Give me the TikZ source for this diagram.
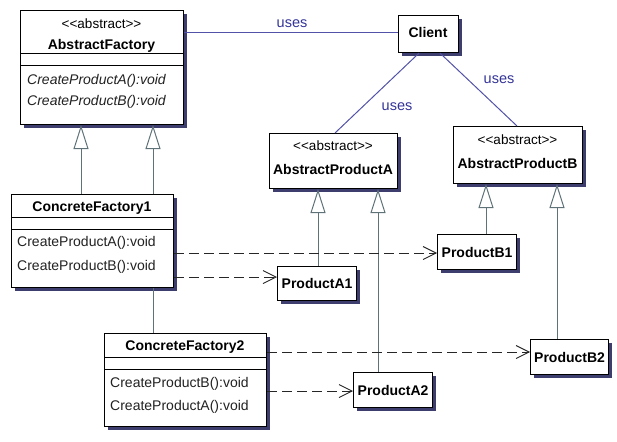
\documentclass[tikz,border=0pt]{standalone}
\usepackage{fontspec}
\setmainfont{Liberation Sans}
\usetikzlibrary{arrows.meta,shadows}
\definecolor{shadowc}{HTML}{3E3E6E}
\definecolor{genc}{HTML}{5E7278}
\definecolor{usec}{HTML}{5252A8}
\definecolor{usetext}{HTML}{333399}
\definecolor{methc}{HTML}{222222}
\newcommand{\stereotxt}{<\kern0pt<abstract>\kern0pt>}
\begin{document}
\begin{tikzpicture}[x=1pt,y=-1pt,
  cls/.style={draw=black, line width=1.1pt, fill=white,
    drop shadow={shadow xshift=3pt, shadow yshift=-3pt, fill=shadowc, opacity=1},
    inner sep=0pt, anchor=north west},
  divl/.style={draw=black, line width=1pt},
  stereo/.style={font=\fontsize{13.5}{15}\selectfont, inner sep=0pt},
  cname/.style={font=\bfseries\fontsize{14}{16}\selectfont, inner sep=0pt},
  meth/.style={font=\fontsize{14}{16}\selectfont, text=methc, anchor=west, inner sep=0pt},
  imeth/.style={meth, font=\itshape\fontsize{14}{16}\selectfont},
  gen/.style={draw=genc, line width=1pt, -{Triangle[open, length=24pt, width=15pt, fill=white]}},
  genline/.style={draw=genc, line width=1pt},
  dep/.style={draw=black!85, line width=0.9pt, dash pattern=on 10pt off 5pt,
    -{Straight Barb[length=13pt, width=13pt]}},
  uses/.style={draw=usec, line width=1pt},
  useslbl/.style={font=\fontsize{14.5}{16}\selectfont, text=usetext, inner sep=0pt}
]
\useasboundingbox (0,0) rectangle (617,441);

% AbstractFactory
\node[cls, minimum width=163pt, minimum height=114pt] (AF) at (20,10) {};
\draw[divl] (AF.west |- 0,54) -- (AF.east |- 0,54);
\draw[divl] (AF.west |- 0,66) -- (AF.east |- 0,66);
\node[stereo] (AFs) at (101.5,24) {\stereotxt};
\node[cname] (AFn) at (101.5,46) {AbstractFactory};
\node[imeth] (AFm1) at (27,81) {CreateProductA():void};
\node[imeth] (AFm2) at (27,102) {CreateProductB():void};

% Client
\node[cls, minimum width=60pt, minimum height=37pt] (CL) at (398,15) {};
\node[cname] (CLn) at (428,32) {Client};

% AbstractProductA
\node[cls, minimum width=128pt, minimum height=55pt] (APA) at (269,133) {};
\node[stereo] (APAs) at (333,146) {\stereotxt};
\node[cname] (APAn) at (333,169) {AbstractProductA};

% AbstractProductB
\node[cls, minimum width=129pt, minimum height=57pt] (APB) at (453,126) {};
\node[stereo] (APBs) at (517.5,140) {\stereotxt};
\node[cname] (APBn) at (517.5,163) {AbstractProductB};

% ConcreteFactory1
\node[cls, minimum width=162pt, minimum height=93pt] (CF1) at (11,194) {};
\draw[divl] (CF1.west |- 0,217) -- (CF1.east |- 0,217);
\draw[divl] (CF1.west |- 0,229) -- (CF1.east |- 0,229);
\node[cname] (CF1n) at (92,208) {ConcreteFactory1};
\node[meth] (CF1m1) at (17,243) {CreateProductA():void};
\node[meth] (CF1m2) at (17,267) {CreateProductB():void};

% ConcreteFactory2
\node[cls, minimum width=162pt, minimum height=93pt] (CF2) at (104,333) {};
\draw[divl] (CF2.west |- 0,357) -- (CF2.east |- 0,357);
\draw[divl] (CF2.west |- 0,369) -- (CF2.east |- 0,369);
\node[cname] (CF2n) at (185,347) {ConcreteFactory2};
\node[meth] (CF2m1) at (110,384) {CreateProductB():void};
\node[meth] (CF2m2) at (110,407) {CreateProductA():void};

% Products
\node[cls, minimum width=79pt, minimum height=34pt] (PA1) at (277,266) {};
\node[cname] at (PA1.center) {ProductA1};
\node[cls, minimum width=79pt, minimum height=35pt] (PB1) at (437,234) {};
\node[cname] at (PB1.center) {ProductB1};
\node[cls, minimum width=79pt, minimum height=35pt] (PA2) at (353,372) {};
\node[cname] at (PA2.center) {ProductA2};
\node[cls, minimum width=78pt, minimum height=35pt] (PB2) at (530,339) {};
\node[cname] at (PB2.center) {ProductB2};

% generalizations
\draw[gen] (CF1.north -| 81,0) -- (AF.south -| 81,0);
\draw[gen] (CF1.north -| 153,0) -- (AF.south -| 153,0);
\draw[genline] (CF2.north -| 153,0) -- (CF1.south -| 153,0);
\draw[gen] (PA1.north -| 318,0) -- (APA.south -| 318,0);
\draw[gen] (PA2.north -| 378,0) -- (APA.south -| 378,0);
\draw[gen] (PB1.north -| 486,0) -- (APB.south -| 486,0);
\draw[gen] (PB2.north -| 557,0) -- (APB.south -| 557,0);

% dependencies
\draw[dep] (CF1.east |- 0,253) -- (PB1.west |- 0,253);
\draw[dep] (CF1.east |- 0,277) -- (PA1.west |- 0,277);
\draw[dep] (CF2.east |- 0,352) -- (PB2.west |- 0,352);
\draw[dep] (CF2.east |- 0,391) -- (PA2.west |- 0,391);

% uses
\draw[uses] (AF.east |- 0,33) -- (CL.west |- 0,33);
\draw[uses] (CL.south -| 419,0) -- (APA.north -| 335,0);
\draw[uses] (CL.south -| 440,0) -- (APB.north -| 517,0);
\node[useslbl] (u1) at (292,24) {uses};
\node[useslbl] (u2) at (397,107) {uses};
\node[useslbl] (u3) at (499,80) {uses};
\end{tikzpicture}
\end{document}
